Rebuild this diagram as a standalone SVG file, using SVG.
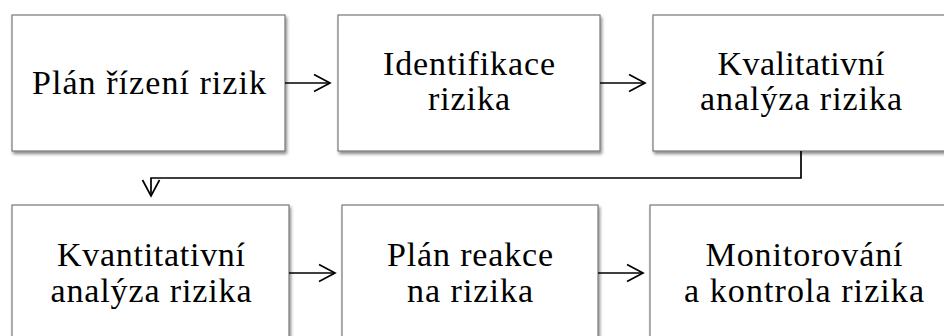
<svg xmlns="http://www.w3.org/2000/svg" width="944" height="336" viewBox="0 0 944 336">
<defs>
<filter id="sh" x="-5%" y="-5%" width="115%" height="115%">
<feDropShadow dx="1.5" dy="2.5" stdDeviation="1.5" flood-color="#000" flood-opacity="0.45"/>
</filter>
<marker id="arr" viewBox="0 0 22 22" refX="18" refY="11" markerWidth="22" markerHeight="22" markerUnits="userSpaceOnUse" orient="auto">
<path d="M2,2.5 L18,11 L2,19.5" fill="none" stroke="#000" stroke-width="1.7"/>
</marker>
</defs>
<style>
.box{fill:#fff;stroke:#777;stroke-width:1.2;filter:url(#sh)}
.t{font-family:"Liberation Serif","DejaVu Serif",serif;font-size:34px;fill:#000;text-anchor:middle}
.c{fill:none;stroke:#000;stroke-width:1.7}
</style>
<g id="n1"><rect class="box" x="12" y="15" width="273" height="136"/>
<text class="t" x="149" y="94" textLength="234" lengthAdjust="spacing">Plán řízení rizik</text></g>
<g id="n2"><rect class="box" x="338" y="15" width="262" height="136"/>
<text class="t" x="469" y="75" textLength="172" lengthAdjust="spacing">Identifikace</text>
<text class="t" x="469" y="110" textLength="82" lengthAdjust="spacing">rizika</text></g>
<g id="n3"><rect class="box" x="653" y="15" width="296" height="136"/>
<text class="t" x="801" y="75" textLength="167" lengthAdjust="spacing">Kvalitativní</text>
<text class="t" x="801" y="110" textLength="202" lengthAdjust="spacing">analýza rizika</text></g>
<g id="n4"><rect class="box" x="12" y="205" width="277" height="140"/>
<text class="t" x="151" y="266" textLength="188" lengthAdjust="spacing">Kvantitativní</text>
<text class="t" x="151" y="302" textLength="201" lengthAdjust="spacing">analýza rizika</text></g>
<g id="n5"><rect class="box" x="342" y="205" width="256" height="140"/>
<text class="t" x="470" y="266" textLength="166" lengthAdjust="spacing">Plán reakce</text>
<text class="t" x="470" y="302" textLength="126" lengthAdjust="spacing">na rizika</text></g>
<g id="n6"><rect class="box" x="650" y="205" width="300" height="140"/>
<text class="t" x="804" y="266" textLength="197" lengthAdjust="spacing">Monitorování</text>
<text class="t" x="804" y="302" textLength="240" lengthAdjust="spacing">a kontrola rizika</text></g>
<g id="connectors">
<path class="c" d="M285,83 H330" marker-end="url(#arr)"/>
<path class="c" d="M600,83 H645" marker-end="url(#arr)"/>
<path class="c" d="M801,151 V178 H151 V196" marker-end="url(#arr)"/>
<path class="c" d="M289,273 H335" marker-end="url(#arr)"/>
<path class="c" d="M598,273 H643" marker-end="url(#arr)"/>
</g>
</svg>
